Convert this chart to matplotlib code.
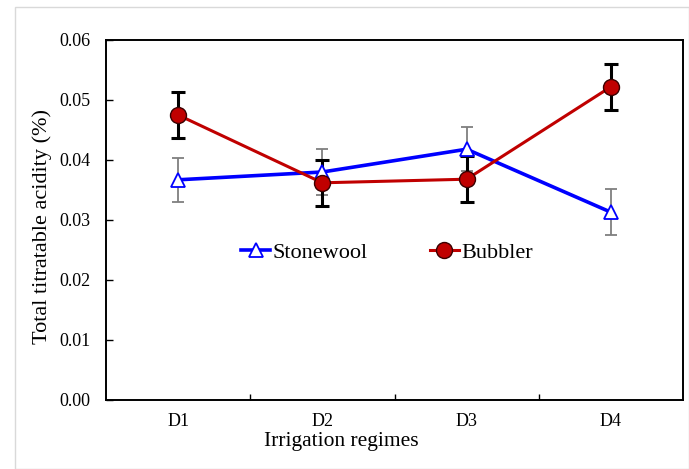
import numpy as np
import matplotlib.pyplot as plt
from matplotlib.patches import Rectangle

plt.rcParams['font.family'] = ['Liberation Serif', 'DejaVu Serif']

regimes = ['D1', 'D2', 'D3', 'D4']
stonewool = [0.0367, 0.0380, 0.0418, 0.0313]
stonewool_err = [0.0037, 0.0038, 0.0037, 0.0038]
bubbler = [0.0475, 0.0362, 0.0368, 0.0522]
bubbler_err = [0.0038, 0.0038, 0.0038, 0.0038]

W, H = 689, 469
fig = plt.figure(figsize=(W / 100, H / 100), dpi=100)
# light chart-area frame
fig.patches.append(Rectangle((15 / W, 0), 1 - 15 / W, 1 - 7 / H, transform=fig.transFigure,
                             fill=False, edgecolor='#d9d9d9', linewidth=1))
ax = fig.add_axes([106 / W, 1 - 400 / H, 577 / W, 360 / H])

x = np.arange(len(regimes))
ax.errorbar(x, stonewool, yerr=stonewool_err, fmt='none', ecolor='#7f7f7f',
            elinewidth=1.3, capsize=4, capthick=1.3, zorder=2)
ax.errorbar(x, bubbler, yerr=bubbler_err, fmt='none', ecolor='black',
            elinewidth=2.2, capsize=5, capthick=2.2, zorder=2)
ax.plot(x, stonewool, color='#0000ff', lw=2.6, marker='^', ms=10, mfc='white',
        mec='#0000ff', mew=1.3, zorder=3, label='Stonewool')
ax.plot(x, bubbler, color='#c00000', lw=2.2, marker='o', ms=11.5, mfc='#c00000',
        mec='#3a0000', mew=1.0, zorder=4, label='Bubbler')

ax.set_xlim(-0.5, 3.5)
ax.set_ylim(0, 0.06)
ax.set_yticks(np.arange(0, 0.061, 0.01))
ax.set_yticklabels(['%.2f' % v for v in np.arange(0, 0.061, 0.01)])
ax.set_xticks(x)
ax.set_xticklabels(regimes)
ax.set_xticks([0.5, 1.5, 2.5], minor=True)
ax.tick_params(axis='x', which='major', length=0, pad=9, labelsize=13)
ax.tick_params(axis='x', which='minor', direction='in', length=4, width=1)
ax.tick_params(axis='y', direction='in', length=5, width=1, pad=11, labelsize=13)
for s in ax.spines.values():
    s.set_linewidth(1.4)

fig.text(341 / W, 1 - 441 / H, 'Irrigation regimes', ha='center', va='center', fontsize=15.5)
fig.text(42 / W, 1 - 227 / H, 'Total titratable acidity (%)', ha='center', va='center',
         rotation=90, fontsize=16)

ax.legend(loc='center', bbox_to_anchor=(0.487, 0.41), ncol=2, frameon=False, fontsize=16,
          handlelength=1.3, handletextpad=0.1, columnspacing=2.8, borderaxespad=0)

fig.savefig('out.png', dpi=100)
